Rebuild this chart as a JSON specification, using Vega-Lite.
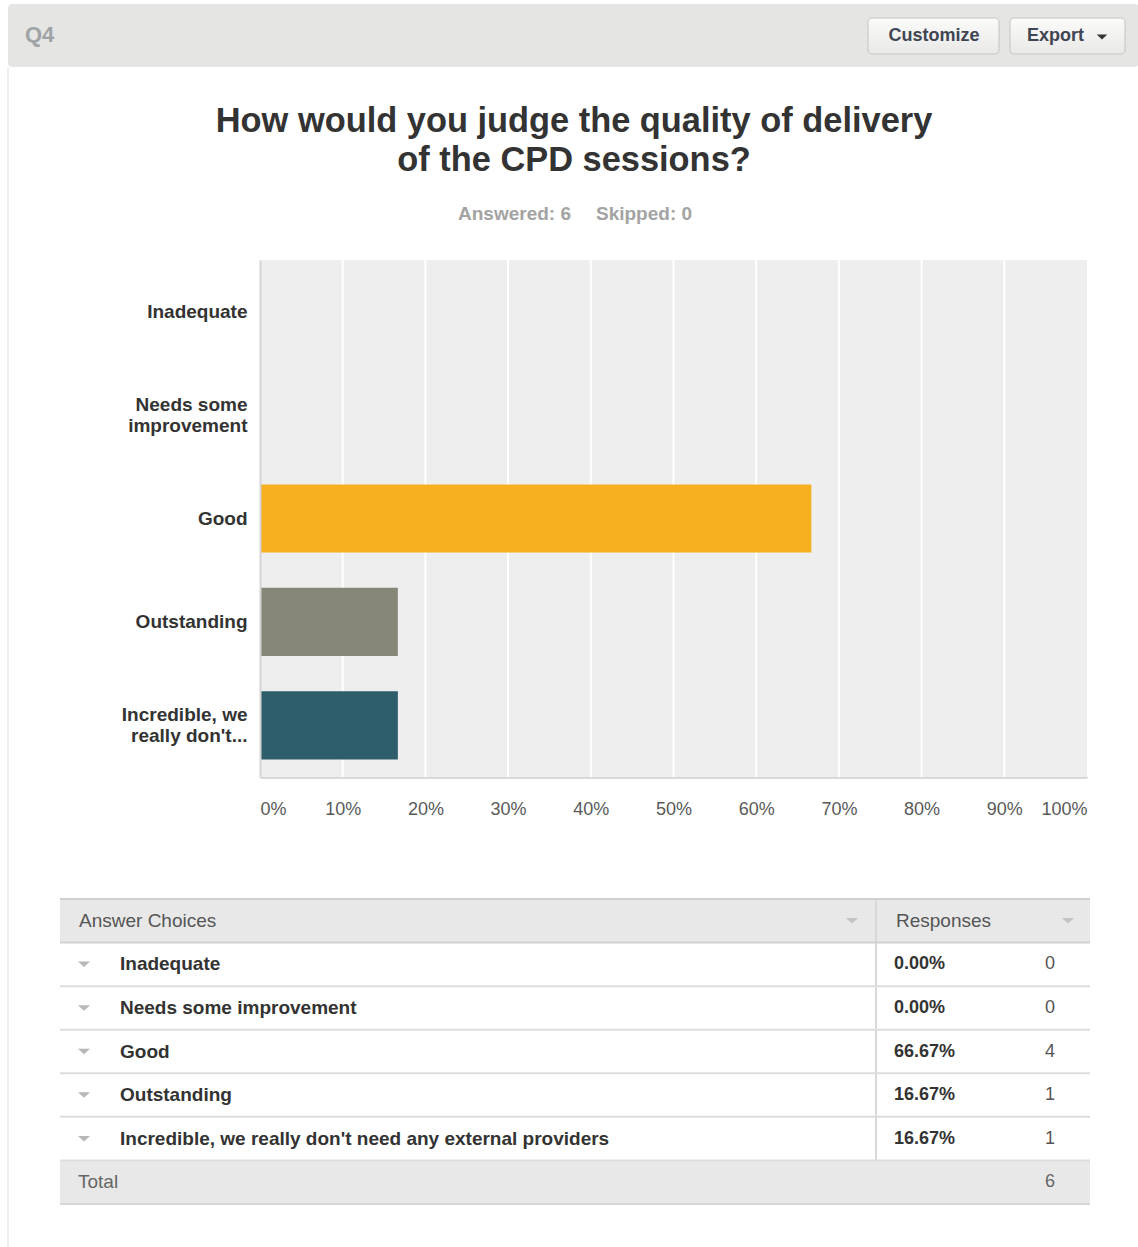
{
  "$schema": "https://vega.github.io/schema/vega-lite/v6.json",
  "padding": {"left": 7, "top": 4, "right": 0, "bottom": 0},
  "background": "#ffffff",
  "config": {
    "view": {"stroke": null},
    "font": "Liberation Sans",
    "text": {"font": "Liberation Sans"},
    "axis": {"labelFont": "Liberation Sans"}
  },
  "datasets": {
    "responses": [
      {"choice": "Inadequate", "pct": 0, "count": 0},
      {"choice": "Needs some improvement", "pct": 0, "count": 0},
      {"choice": "Good", "pct": 0.6667, "count": 4},
      {"choice": "Outstanding", "pct": 0.1667, "count": 1},
      {"choice": "Incredible, we really don't need any external providers", "pct": 0.1667, "count": 1}
    ]
  },
  "spacing": 0,
  "bounds": "flush",
  "vconcat": [
    {
      "width": 1131,
      "height": 63,
      "view": {"fill": "#e5e5e3", "stroke": null, "cornerRadius": 4},
      "data": {"values": [{}]},
      "layer": [
        {
          "mark": {"type": "text", "text": "Q4", "fontSize": 22, "fontWeight": "bold", "color": "#a0a3a6", "align": "left", "baseline": "middle"},
          "encoding": {"x": {"value": 17}, "y": {"value": 31}}
        },
        {
          "mark": {"type": "rect", "cornerRadius": 4, "stroke": "#c4c4c2", "strokeWidth": 1,
            "fill": {"gradient": "linear", "x1": 0, "y1": 0, "x2": 0, "y2": 1, "stops": [{"offset": 0, "color": "#fbfbfa"}, {"offset": 1, "color": "#e9e9e7"}]}},
          "encoding": {"x": {"value": 860}, "x2": {"value": 991}, "y": {"value": 14}, "y2": {"value": 50}}
        },
        {
          "mark": {"type": "rect", "cornerRadius": 4, "stroke": "#c4c4c2", "strokeWidth": 1,
            "fill": {"gradient": "linear", "x1": 0, "y1": 0, "x2": 0, "y2": 1, "stops": [{"offset": 0, "color": "#fbfbfa"}, {"offset": 1, "color": "#e9e9e7"}]}},
          "encoding": {"x": {"value": 1002}, "x2": {"value": 1117}, "y": {"value": 14}, "y2": {"value": 50}}
        },
        {
          "mark": {"type": "text", "text": "Customize", "fontSize": 18, "fontWeight": "bold", "color": "#3f4552", "align": "center", "baseline": "middle"},
          "encoding": {"x": {"value": 926}, "y": {"value": 32}}
        },
        {
          "mark": {"type": "text", "text": "Export", "fontSize": 18, "fontWeight": "bold", "color": "#3f4552", "align": "left", "baseline": "middle"},
          "encoding": {"x": {"value": 1019}, "y": {"value": 32}}
        },
        {
          "mark": {"type": "point", "shape": "M-1,-0.5L1,-0.5L0,0.5Z", "filled": true, "size": 110, "color": "#333333", "opacity": 1},
          "encoding": {"x": {"value": 1094}, "y": {"value": 33}}
        }
      ]
    },
    {
      "width": 1131,
      "height": 193,
      "data": {"values": [{}]},
      "layer": [
        {"mark": {"type": "rule", "color": "#dddddd", "strokeWidth": 1}, "encoding": {"x": {"value": 0}}},
        {
          "mark": {"type": "text", "text": "How would you judge the quality of delivery", "fontSize": 34.4, "fontWeight": "bold", "color": "#333333", "align": "center", "baseline": "alphabetic"},
          "encoding": {"x": {"value": 566}, "y": {"value": 65}}
        },
        {
          "mark": {"type": "text", "text": "of the CPD sessions?", "fontSize": 34.4, "fontWeight": "bold", "color": "#333333", "align": "center", "baseline": "alphabetic"},
          "encoding": {"x": {"value": 566}, "y": {"value": 104}}
        },
        {
          "mark": {"type": "text", "text": "Answered: 6", "fontSize": 19, "fontWeight": "bold", "color": "#a3a3a3", "align": "right", "baseline": "alphabetic"},
          "encoding": {"x": {"value": 563}, "y": {"value": 153}}
        },
        {
          "mark": {"type": "text", "text": "Skipped: 0", "fontSize": 19, "fontWeight": "bold", "color": "#a3a3a3", "align": "left", "baseline": "alphabetic"},
          "encoding": {"x": {"value": 588}, "y": {"value": 153}}
        }
      ]
    },
    {
      "width": 1131,
      "height": 517,
      "data": {"name": "responses"},
      "layer": [
        {
          "data": {"values": [{}]},
          "mark": {"type": "rect", "color": "#eeeeee"},
          "encoding": {
            "x": {"datum": 0, "type": "quantitative"},
            "x2": {"datum": 1}
          }
        },
        {
          "data": {"values": [{"tick": 0.1}, {"tick": 0.2}, {"tick": 0.3}, {"tick": 0.4}, {"tick": 0.5}, {"tick": 0.6}, {"tick": 0.7}, {"tick": 0.8}, {"tick": 0.9}]},
          "mark": {"type": "rule", "color": "#ffffff", "strokeWidth": 2},
          "encoding": {"x": {"field": "tick", "type": "quantitative"}}
        },
        {
          "data": {"values": [{}]},
          "mark": {"type": "rule", "color": "#dddddd", "strokeWidth": 1},
          "encoding": {"x": {"value": 0}}
        },
        {
          "mark": {"type": "bar"},
          "encoding": {
            "y": {
              "field": "choice",
              "type": "nominal",
              "scale": {
                "domain": ["Inadequate", "Needs some improvement", "Good", "Outstanding", "Incredible, we really don't need any external providers"],
                "paddingInner": 0.34,
                "paddingOuter": 0.17
              },
              "axis": {
                "title": null,
                "zindex": 1,
                "offset": -252,
                "domain": true,
                "domainColor": "#d4d4d4",
                "domainWidth": 2,
                "ticks": false,
                "grid": false,
                "labelPadding": 13,
                "labelFontSize": 19,
                "labelFontWeight": "bold",
                "labelColor": "#333333",
                "labelLimit": 0,
                "labelLineHeight": 21,
                "labelOffset": {"condition": {"test": "datum.value == 'Needs some improvement' || indexof(datum.value, 'Incredible') == 0", "value": -10}, "value": 0},
                "labelExpr": "datum.value == 'Needs some improvement' ? ['Needs some', 'improvement'] : (indexof(datum.value, 'Incredible') == 0 ? ['Incredible, we', \"really don't...\"] : (datum.value == 'Good' ? 'Good\u00a0' : datum.value))"
              }
            },
            "x": {
              "field": "pct",
              "type": "quantitative",
              "scale": {"domain": [0, 1], "nice": false, "range": [252, 1079]},
              "axis": {
                "title": null,
                "values": [0, 0.1, 0.2, 0.3, 0.4, 0.5, 0.6, 0.7, 0.8, 0.9, 1],
                "format": ".0%",
                "grid": false,
                "domain": true,
                "domainColor": "#d9d9d9",
                "domainWidth": 3,
                "ticks": false,
                "labelFlush": true,
                "labelPadding": 23,
                "labelFontSize": 18,
                "labelColor": "#5a5a5a"
              }
            },
            "color": {
              "field": "choice",
              "type": "nominal",
              "scale": {
                "domain": ["Inadequate", "Needs some improvement", "Good", "Outstanding", "Incredible, we really don't need any external providers"],
                "range": ["#6f9bd1", "#b7c55a", "#f6af1e", "#868778", "#2e5e6b"]
              },
              "legend": null
            }
          }
        }
      ]
    },
    {
      "width": 1131,
      "height": 122,
      "data": {"values": [{}]},
      "mark": {"type": "rule", "color": "#dddddd", "strokeWidth": 1},
      "encoding": {"x": {"value": 0}}
    },
    {
      "width": 1131,
      "height": 305,
      "data": {"name": "responses"},
      "layer": [
        {
          "data": {"values": [{}]},
          "mark": {"type": "rule", "color": "#dddddd", "strokeWidth": 1},
          "encoding": {"x": {"value": 0}}
        },
        {
          "data": {"values": [{}]},
          "mark": {"type": "rect", "color": "#e8e8e8"},
          "encoding": {
            "y": {
              "datum": "Answer Choices",
              "type": "nominal",
              "scale": {
                "domain": ["Answer Choices", "Inadequate", "Needs some improvement", "Good", "Outstanding", "Incredible, we really don't need any external providers", "Total"],
                "paddingInner": 0,
                "paddingOuter": 0
              },
              "axis": null
            },
            "x": {"value": 52},
            "x2": {"value": 1082}
          }
        },
        {
          "data": {"values": [{}]},
          "mark": {"type": "rect", "color": "#e8e8e8"},
          "encoding": {"y": {"datum": "Total", "type": "nominal"}, "x": {"value": 52}, "x2": {"value": 1082}}
        },
        {
          "data": {"values": [{}]},
          "mark": {"type": "rect", "color": "#d9d9d9"},
          "encoding": {"y": {"datum": "Answer Choices", "type": "nominal"}, "x": {"value": 867}, "x2": {"value": 869}}
        },
        {
          "mark": {"type": "rect", "color": "#d9d9d9"},
          "encoding": {"y": {"field": "choice", "type": "nominal"}, "x": {"value": 867}, "x2": {"value": 869}}
        },
        {
          "mark": {"type": "rule", "color": "#dddddd", "strokeWidth": 2},
          "encoding": {"y": {"field": "choice", "type": "nominal", "bandPosition": 1}, "x": {"value": 52}, "x2": {"value": 1082}}
        },
        {
          "data": {"values": [{}]},
          "mark": {"type": "rule", "color": "#d0d0d0", "strokeWidth": 2},
          "encoding": {"y": {"datum": "Answer Choices", "type": "nominal", "bandPosition": 0}, "x": {"value": 52}, "x2": {"value": 1082}}
        },
        {
          "data": {"values": [{}]},
          "mark": {"type": "rule", "color": "#d0d0d0", "strokeWidth": 2},
          "encoding": {"y": {"datum": "Answer Choices", "type": "nominal", "bandPosition": 1}, "x": {"value": 52}, "x2": {"value": 1082}}
        },
        {
          "data": {"values": [{}]},
          "mark": {"type": "rule", "color": "#d6d6d6", "strokeWidth": 2},
          "encoding": {"y": {"datum": "Total", "type": "nominal", "bandPosition": 1}, "x": {"value": 52}, "x2": {"value": 1082}}
        },
        {
          "mark": {"type": "point", "shape": "M-1,-0.45L1,-0.45L0,0.45Z", "filled": true, "size": 150, "color": "#b8b8b8", "opacity": 1},
          "encoding": {"y": {"field": "choice", "type": "nominal"}, "x": {"value": 76}}
        },
        {
          "mark": {"type": "text", "fontSize": 19, "fontWeight": "bold", "color": "#333333", "align": "left", "baseline": "middle"},
          "encoding": {"y": {"field": "choice", "type": "nominal"}, "x": {"value": 112}, "text": {"field": "choice"}}
        },
        {
          "mark": {"type": "text", "fontSize": 18, "fontWeight": "bold", "color": "#333333", "align": "left", "baseline": "middle"},
          "encoding": {"y": {"field": "choice", "type": "nominal"}, "x": {"value": 886}, "text": {"field": "pct", "type": "quantitative", "format": ".2%"}}
        },
        {
          "mark": {"type": "text", "fontSize": 18, "color": "#555555", "align": "center", "baseline": "middle"},
          "encoding": {"y": {"field": "choice", "type": "nominal"}, "x": {"value": 1042}, "text": {"field": "count", "type": "quantitative"}}
        },
        {
          "data": {"values": [{}]},
          "mark": {"type": "text", "text": "Answer Choices", "fontSize": 19, "color": "#555555", "align": "left", "baseline": "middle"},
          "encoding": {"y": {"datum": "Answer Choices", "type": "nominal"}, "x": {"value": 71}}
        },
        {
          "data": {"values": [{}]},
          "mark": {"type": "text", "text": "Responses", "fontSize": 19, "color": "#555555", "align": "left", "baseline": "middle"},
          "encoding": {"y": {"datum": "Answer Choices", "type": "nominal"}, "x": {"value": 888}}
        },
        {
          "data": {"values": [{}]},
          "mark": {"type": "point", "shape": "M-1,-0.45L1,-0.45L0,0.45Z", "filled": true, "size": 150, "color": "#c4c4c4", "opacity": 1},
          "encoding": {"y": {"datum": "Answer Choices", "type": "nominal"}, "x": {"value": 844}}
        },
        {
          "data": {"values": [{}]},
          "mark": {"type": "point", "shape": "M-1,-0.45L1,-0.45L0,0.45Z", "filled": true, "size": 150, "color": "#c4c4c4", "opacity": 1},
          "encoding": {"y": {"datum": "Answer Choices", "type": "nominal"}, "x": {"value": 1060}}
        },
        {
          "data": {"values": [{}]},
          "mark": {"type": "text", "text": "Total", "fontSize": 19, "color": "#666666", "align": "left", "baseline": "middle"},
          "encoding": {"y": {"datum": "Total", "type": "nominal"}, "x": {"value": 70}}
        },
        {
          "mark": {"type": "text", "fontSize": 18, "color": "#666666", "align": "center", "baseline": "middle"},
          "encoding": {"y": {"datum": "Total", "type": "nominal"}, "x": {"value": 1042}, "text": {"aggregate": "sum", "field": "count", "type": "quantitative"}}
        }
      ]
    },
    {
      "width": 1131,
      "height": 43,
      "data": {"values": [{}]},
      "mark": {"type": "rule", "color": "#dddddd", "strokeWidth": 1},
      "encoding": {"x": {"value": 0}}
    }
  ]
}
